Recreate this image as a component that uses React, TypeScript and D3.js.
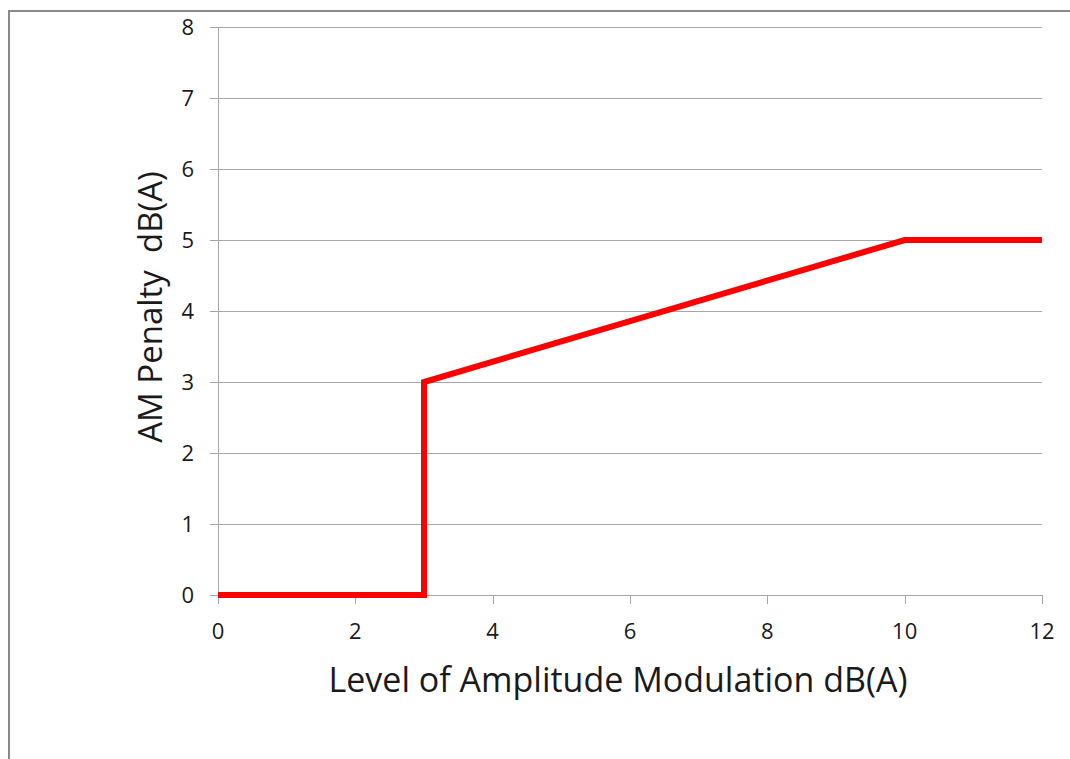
import React from "react";
import * as d3 from "d3";

const xValues = [0, 3, 3, 10, 12];
const yValues = [0, 0, 3, 5, 5];
const xTicks = [0, 2, 4, 6, 8, 10, 12];
const yTicks = [0, 1, 2, 3, 4, 5, 6, 7, 8];
const xTitle = "Level of Amplitude Modulation dB(A)";
const yTitle = "AM Penalty  dB(A)";

export default function App() {
  const W = 1070, H = 759;
  const left = 218, right = 1042, top = 27, bottom = 595;
  const x = d3.scaleLinear().domain([0, 12]).range([left, right]);
  const y = d3.scaleLinear().domain([0, 8]).range([bottom, top]);
  const pts: [number, number][] = xValues.map((v, i) => [v, yValues[i]]);
  const line = d3.line<[number, number]>().x(d => x(d[0])).y(d => y(d[1]));
  const font = "'Open Sans', sans-serif";
  return (
    <svg width={W} height={H} style={{ position: "absolute", left: 0, top: 0 }}>
      <rect x={0} y={0} width={W} height={H} fill="#fff" />
      <rect x={9} y={11} width={1080} height={800} fill="none" stroke="#8a8a8a" strokeWidth={2} />
      {yTicks.map(t => (
        <g key={"y" + t}>
          <line x1={left - 8} x2={right} y1={Math.round(y(t)) + 0.5} y2={Math.round(y(t)) + 0.5} stroke="#a6a6a6" strokeWidth={1} />
          <text x={194} y={y(t)} dy="0.36em" textAnchor="end" fontSize={22} fontFamily={font} fill="#1a1a1a">{t}</text>
        </g>
      ))}
      <line x1={left + 0.5} x2={left + 0.5} y1={top} y2={bottom} stroke="#a6a6a6" strokeWidth={1} />
      {xTicks.map(t => (
        <g key={"x" + t}>
          <line x1={Math.round(x(t)) + 0.5} x2={Math.round(x(t)) + 0.5} y1={bottom} y2={bottom + 9} stroke="#a6a6a6" strokeWidth={1} />
          <text x={x(t)} y={639} textAnchor="middle" fontSize={22} fontFamily={font} fill="#1a1a1a">{t}</text>
        </g>
      ))}
      <path d={line(pts) || ""} fill="none" stroke="#ff0000" strokeWidth={6} strokeLinejoin="miter" />
      <text x={618} y={692} textAnchor="middle" fontSize={34} fontFamily={font} fill="#1a1a1a">{xTitle}</text>
      <text transform={`translate(162,${307}) rotate(-90)`} textAnchor="middle" fontSize={33} fontFamily={font} fill="#1a1a1a" style={{ whiteSpace: "pre" }}>{yTitle}</text>
    </svg>
  );
}
